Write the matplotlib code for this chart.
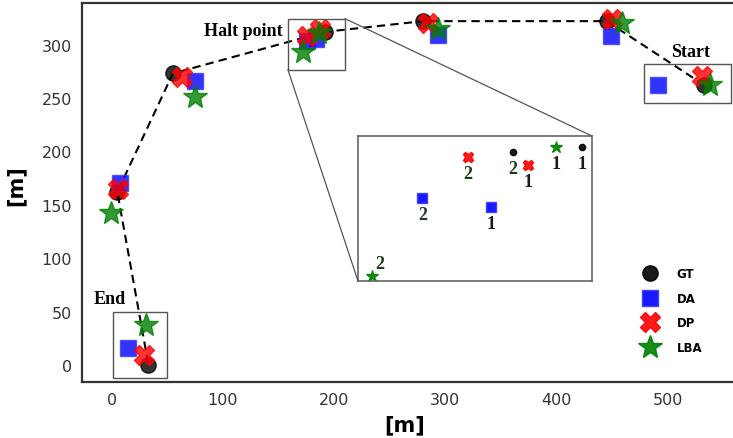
import matplotlib
matplotlib.use("Agg")
import matplotlib.pyplot as plt
from matplotlib.patches import Rectangle, ConnectionPatch
from matplotlib.lines import Line2D

# Trajectory estimates [m]: start -> ... -> end
gt_x = [533, 445, 280, 192, 55, 5, 33]
gt_y = [262, 322, 322, 312, 273, 162, 0]

da_x = [491, 449, 293, 176, 184, 75, 7, 15]
da_y = [262, 308, 309, 303, 305, 266, 170, 16]

dp_x = [531, 450, 284, 176, 187, 63, 6, 29]
dp_y = [271, 324, 320, 308, 315, 270, 165, 9]

lba_x = [538, 459, 293, 186, 172, 75, -1, 31]
lba_y = [262, 320, 315, 311, 293, 251, 142, 37]

# Zoomed halt point, two visits (1 and 2)
halt_gt_x, halt_gt_y, halt_gt_n = [207.6, 192.3], [320.7, 319.1], ["1", "2"]
halt_da_x, halt_da_y, halt_da_n = [187.5, 172.5], [301.0, 303.9], ["1", "2"]
halt_dp_x, halt_dp_y, halt_dp_n = [195.6, 182.5], [314.9, 317.5], ["1", "2"]
halt_lba_x, halt_lba_y, halt_lba_n = [201.9, 161.4], [320.7, 278.3], ["1", "2"]

# boxes around start, halt point and end: (x0, y0, x1, y1)
halt_box = (158.4, 276.6, 209.7, 324.4)
start_box = (479, 245.6, 557, 282)
end_box = (1.3, -12.2, 49.7, 49.7)

styles = {
    "GT": dict(marker="o", color="black", ms=11),
    "DA": dict(marker="s", color="blue", ms=12, mec="#3a3aff"),
    "DP": dict(marker="X", color="red", ms=15),
    "LBA": dict(marker="*", color="green", ms=18),
}

fig = plt.figure(figsize=(7.33, 4.39), dpi=100)
ax = fig.add_axes([0.1115, 0.1276, 0.898, 0.8633])

ax.plot(gt_x, gt_y, "--", color="black", lw=1.5, dashes=(4, 2.5), zorder=2)
for name, xs, ys in [("GT", gt_x, gt_y), ("DA", da_x, da_y),
                     ("DP", dp_x, dp_y), ("LBA", lba_x, lba_y)]:
    st = styles[name]
    ax.plot(xs, ys, ls="none", marker=st["marker"], ms=st["ms"],
            mfc=st["color"], mec=st.get("mec", st["color"]), alpha=0.8, zorder=3)

for x0, y0, x1, y1 in [halt_box, start_box, end_box]:
    ax.add_patch(Rectangle((x0, y0), x1 - x0, y1 - y0, fill=False,
                           ec="#555555", lw=1.0, zorder=4, clip_on=False))

lbl = dict(family="Liberation Serif", fontweight="bold", fontsize=13)
ax.text(154, 313, "Halt point", ha="right", va="center", **lbl)
ax.text(521, 294, "Start", ha="center", va="center", **lbl)
ax.text(-2, 62, "End", ha="center", va="center", **lbl)

ax.set_xlim(-27, 565)
ax.set_ylim(-16, 339)
ax.set_xticks([0, 100, 200, 300, 400, 500])
ax.set_yticks([0, 50, 100, 150, 200, 250, 300])
ax.tick_params(length=0, pad=7, labelsize=11.5, labelcolor="#333333")
for sp in ax.spines.values():
    sp.set_color("#333333")
    sp.set_linewidth(1.6)
ax.set_xlabel("[m]", fontsize=15, fontweight="bold")
ax.set_ylabel("[m]", fontsize=15, fontweight="bold")
ax.xaxis.set_label_coords(0.49, -0.085)
ax.yaxis.set_label_coords(-0.085, 0.52)

# legend
handles = [Line2D([], [], ls="none", marker=styles[k]["marker"], ms=styles[k]["ms"],
                  mfc=styles[k]["color"], mec=styles[k].get("mec", styles[k]["color"]),
                  alpha=0.9, label=k) for k in ["GT", "DA", "DP", "LBA"]]
ax.legend(handles=handles, loc="upper left", bbox_to_anchor=(0.838, 0.331),
          frameon=False, handlelength=1.0, handletextpad=1.75, labelspacing=0.98,
          prop=dict(weight="bold", size=8.5))

# inset of the halt point
axins = fig.add_axes([0.4884, 0.3576, 0.3192, 0.3303])
axins.set_xlim(halt_box[0], halt_box[2])
axins.set_ylim(halt_box[1], halt_box[3])
axins.set_xticks([])
axins.set_yticks([])
for sp in axins.spines.values():
    sp.set_color("#666666")
    sp.set_linewidth(1.2)

small = {"GT": 4.5, "DA": 7, "DP": 7.5, "LBA": 9}
num_color = {"1": "#1a1a1a", "2": "#1e3d1e"}
for name, xs, ys, ns in [("GT", halt_gt_x, halt_gt_y, halt_gt_n),
                         ("DA", halt_da_x, halt_da_y, halt_da_n),
                         ("DP", halt_dp_x, halt_dp_y, halt_dp_n),
                         ("LBA", halt_lba_x, halt_lba_y, halt_lba_n)]:
    st = styles[name]
    axins.plot(xs, ys, ls="none", marker=st["marker"], ms=small[name],
               mfc=st["color"], mec=st.get("mec", st["color"]), alpha=0.9)
    for x, y, n in zip(xs, ys, ns):
        if name == "LBA" and n == "2":
            off = (6, 9)
        else:
            off = (0, -12)
        axins.annotate(n, (x, y), xytext=off, textcoords="offset points",
                       ha="center", va="center", color=num_color[n],
                       family="Liberation Serif", fontweight="bold", fontsize=13)

for pa, pb in [((halt_box[2], halt_box[3]), (1, 1)), ((halt_box[0], halt_box[1]), (0, 0))]:
    con = ConnectionPatch(xyA=pa, coordsA="data", axesA=ax,
                          xyB=pb, coordsB="axes fraction", axesB=axins,
                          color="#555555", lw=0.9)
    fig.add_artist(con)

fig.savefig("out.png", dpi=100)
